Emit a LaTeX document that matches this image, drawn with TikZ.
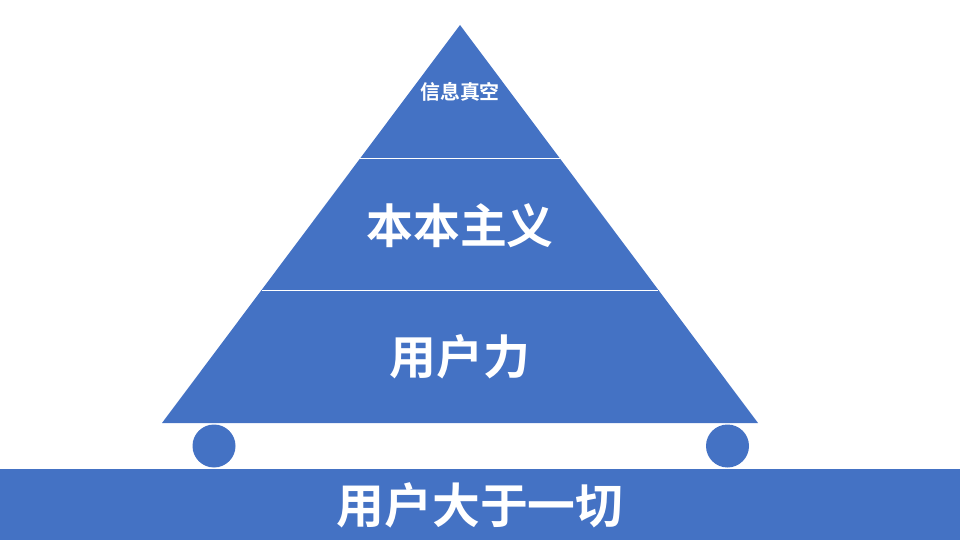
\documentclass[tikz,border=0pt]{standalone}
\usepackage{fontspec}
\newfontfamily\cjk{Noto Sans CJK SC}[BoldFont={Noto Sans CJK SC Bold}]
\definecolor{pyrblue}{HTML}{4472C4}
\tikzset{
  label/.style={text=white,font=\cjk\bfseries,inner sep=0pt},
  wheel/.style={circle,fill=pyrblue,minimum size=43bp,inner sep=0pt}
}
\begin{document}
\begin{tikzpicture}[x=1bp,y=-1bp]
      \useasboundingbox (0,0) rectangle (960,540);
      \fill[pyrblue] (460,25) -- (758,423) -- (162,423) -- cycle;
      \fill[pyrblue] (0,469) rectangle (960,540);
      \draw[white,line width=0.8bp] (360.4,158) -- (559.6,158);
      \draw[white,line width=0.8bp] (261.6,290) -- (658.4,290);
      \draw
        (460,92) node[label,font=\cjk\bfseries\fontsize{20}{20}\selectfont] (top){信息真空}
        (460,226) node[label,font=\cjk\bfseries\fontsize{47}{47}\selectfont] (mid){本本主义}
        (460,357) node[label,font=\cjk\bfseries\fontsize{47}{47}\selectfont] (low){用户力}
        (480,505) node[label,font=\cjk\bfseries\fontsize{48}{48}\selectfont] (base){用户大于一切};
      \node[wheel] (lwheel) at (214,446) {};
      \node[wheel] (rwheel) at (727.5,446) {};
    \end{tikzpicture}
\end{document}
